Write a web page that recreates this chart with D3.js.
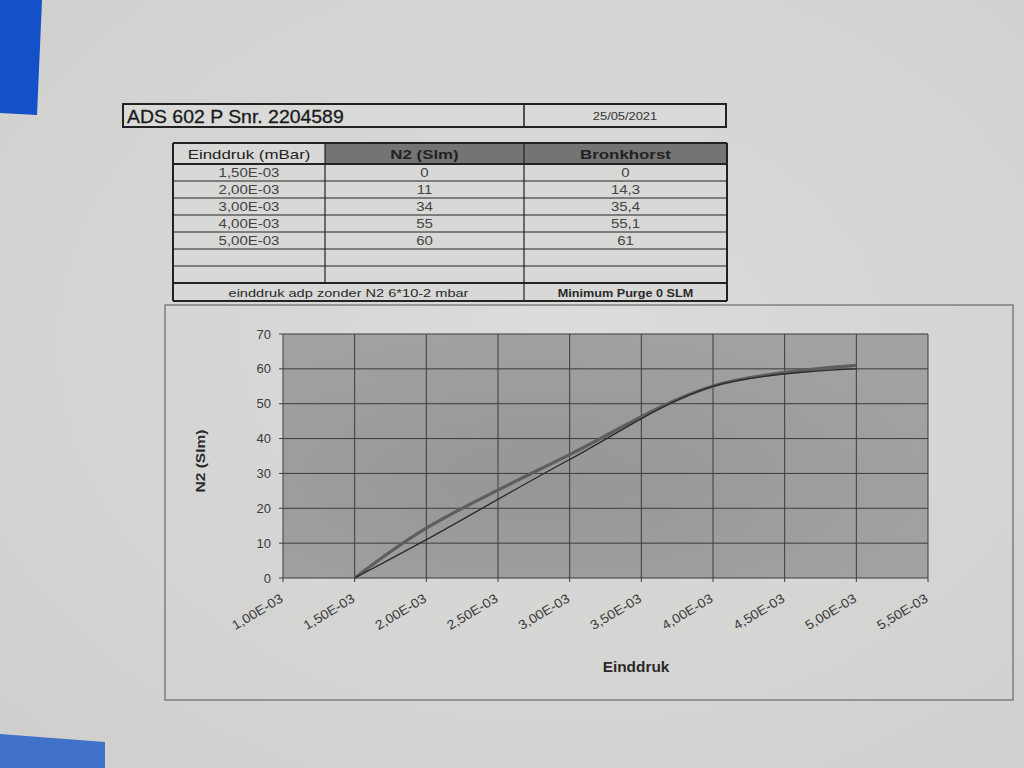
<!DOCTYPE html>
<html><head><meta charset="utf-8">
<script src="https://cdn.jsdelivr.net/npm/d3@7"></script>
<style>html,body{margin:0;padding:0;background:#d5d5d3;}svg{display:block;font-family:"Liberation Sans",Arial,sans-serif;}</style>
</head><body>
<svg id="c" width="1024" height="768"></svg>
<script>
// ---- data ----
const title = "ADS 602 P Snr. 2204589";
const dateText = "25/05/2021";
const columns = ["Einddruk (mBar)", "N2 (Slm)", "Bronkhorst"];
const pressure = [1.5e-3, 2.0e-3, 3.0e-3, 4.0e-3, 5.0e-3];
const n2 = [0, 11, 34, 55, 60];
const bronkhorst = [0, 14.3, 35.4, 55.1, 61];
const footLeft = "einddruk adp zonder N2 6*10-2 mbar";
const footRight = "Minimum Purge 0 SLM";
const xTicks = [1.0e-3, 1.5e-3, 2.0e-3, 2.5e-3, 3.0e-3, 3.5e-3, 4.0e-3, 4.5e-3, 5.0e-3, 5.5e-3];
const yTicks = [0, 10, 20, 30, 40, 50, 60, 70];
const xTitle = "Einddruk";
const yTitle = "N2 (Slm)";

const fmt = v => v.toExponential(2).replace(".", ",").replace(/e([+-])(\d)$/, "E$10$2").replace(/e([+-])(\d\d)$/, "E$1$2");
const fmtNum = v => String(v).replace(".", ",");

const svg = d3.select("#c");

// paper background
const defs = svg.append("defs");
const g1 = defs.append("radialGradient").attr("id","paper").attr("cx","55%").attr("cy","45%").attr("r","75%");
g1.append("stop").attr("offset","0%").attr("stop-color","#dcdcda");
g1.append("stop").attr("offset","100%").attr("stop-color","#cfcfcd");
svg.append("rect").attr("width",1024).attr("height",768).attr("fill","url(#paper)");
// blue patches
svg.append("path").attr("d","M0,0 L42,0 L37,115 L0,113 Z").attr("fill","#1450c8");
svg.append("path").attr("d","M0,734 L105,742 L105,768 L0,768 Z").attr("fill","#3f72c8");

function stxt(g, cx, y, str, size, sx, opts){
  opts = opts || {};
  return g.append("text").attr("transform",`translate(${cx},${y}) scale(${sx},1)`)
    .attr("text-anchor", opts.anchor || "middle").attr("font-size",size)
    .attr("font-weight",opts.weight||"normal").attr("fill",opts.fill||"#333").text(str);
}

// ---- title box ----
const tb = svg.append("g");
tb.append("rect").attr("x",123).attr("y",104).attr("width",603).attr("height",23).attr("fill","#dadad8").attr("stroke","#222").attr("stroke-width",2);
tb.append("line").attr("x1",524).attr("x2",524).attr("y1",104).attr("y2",127).attr("stroke","#222").attr("stroke-width",1.5);
stxt(tb, 127, 123, title, 18, 1.08, {anchor:"start", fill:"#1a1a1a"}).attr("stroke","#1a1a1a").attr("stroke-width",0.3);
stxt(tb, 625, 120, dateText, 11.5, 1.12, {fill:"#333"});

// ---- data table ----
const colX = [173, 325, 524, 727];
const rowY = [143, 164, 181, 198, 215, 232, 249, 266, 283, 301];
const tg = svg.append("g");
tg.append("rect").attr("x",colX[0]).attr("y",rowY[0]).attr("width",colX[3]-colX[0]).attr("height",rowY[9]-rowY[0]).attr("fill","#d8d8d6");
tg.append("rect").attr("x",colX[1]).attr("y",rowY[0]).attr("width",colX[3]-colX[1]).attr("height",rowY[1]-rowY[0]).attr("fill","#747474");
rowY.forEach((y,i)=>{
  tg.append("line").attr("x1",colX[0]).attr("x2",colX[3]).attr("y1",y).attr("y2",y).attr("stroke","#222").attr("stroke-width",(i===0||i===1||i===8||i===9)?2:1.2);
});
colX.forEach((x,i)=>{
  tg.append("line").attr("x1",x).attr("x2",x).attr("y1",rowY[0]).attr("y2",(i===1)?rowY[8]:rowY[9]).attr("stroke","#222").attr("stroke-width",(i===0||i===3)?2:1.2);
});
columns.forEach((c,i)=>{
  stxt(tg, (colX[i]+colX[i+1])/2, rowY[1]-5, c, 13.5, 1.25, {weight: i===0?"normal":"bold", fill:"#222"});
});
pressure.forEach((p,i)=>{
  const y = rowY[i+1]+13;
  const vals = [fmt(p), fmtNum(n2[i]), fmtNum(bronkhorst[i])];
  vals.forEach((v,j)=>{
    stxt(tg, (colX[j]+colX[j+1])/2, y, v, 12, 1.25, {fill:"#444"});
  });
});
stxt(tg, (colX[0]+colX[2])/2, rowY[8]+14, footLeft, 11.5, 1.27, {fill:"#2a2a2a"});
stxt(tg, (colX[2]+colX[3])/2, rowY[8]+14, footRight, 11, 1.15, {weight:"bold", fill:"#2a2a2a"});

// ---- chart ----
svg.append("rect").attr("x",165).attr("y",305).attr("width",848).attr("height",395).attr("fill","none").attr("stroke","#6a6a6a").attr("stroke-width",1.2);

const L=283, R=928, T=334, B=578;
const x = d3.scaleLinear().domain([1.0e-3, 5.5e-3]).range([L,R]);
const y = d3.scaleLinear().domain([0,70]).range([B,T]);

const g2 = defs.append("radialGradient").attr("id","plotbg").attr("cx","40%").attr("cy","60%").attr("r","70%");
g2.append("stop").attr("offset","0%").attr("stop-color","#969696");
g2.append("stop").attr("offset","100%").attr("stop-color","#a2a2a2");
svg.append("rect").attr("x",L).attr("y",T).attr("width",R-L).attr("height",B-T).attr("fill","url(#plotbg)");

const grid = svg.append("g");
grid.selectAll("line.v").data(xTicks).join("line").attr("class","v")
  .attr("x1",d=>x(d)).attr("x2",d=>x(d)).attr("y1",T).attr("y2",B+4).attr("stroke","#3c3c3c").attr("stroke-width",1);
grid.selectAll("line.h").data(yTicks).join("line").attr("class","h")
  .attr("x1",L-4).attr("x2",R).attr("y1",d=>y(d)).attr("y2",d=>y(d)).attr("stroke","#3c3c3c").attr("stroke-width",1);

svg.selectAll("text.yt").data(yTicks).join("text").attr("class","yt")
  .attr("x",L-12).attr("y",d=>y(d)+4.5).attr("text-anchor","end").attr("font-size",13).attr("fill","#3a3a3a").text(d=>d);
svg.selectAll("text.xt").data(xTicks).join("text").attr("class","xt")
  .attr("transform",d=>`translate(${x(d)+1},${B+23}) rotate(-31) scale(1.08,1)`)
  .attr("text-anchor","end").attr("font-size",13).attr("fill","#3a3a3a").text(d=>fmt(d));

svg.append("text").attr("transform",`translate(205,${(T+B)/2+5}) rotate(-90) scale(1.15,1)`).attr("text-anchor","middle")
  .attr("font-size",13.5).attr("font-weight","bold").attr("fill","#2a2a2a").text(yTitle);
svg.append("text").attr("transform","translate(636,672) scale(1.1,1)").attr("text-anchor","middle").attr("font-size",14).attr("font-weight","bold").attr("fill","#2a2a2a").text(xTitle);

const line = d3.line().x(d=>x(d[0])).y(d=>y(d[1])).curve(d3.curveCatmullRom.alpha(0.5));
svg.append("path").datum(pressure.map((p,i)=>[p,bronkhorst[i]])).attr("d",line)
  .attr("fill","none").attr("stroke","#5e5e5e").attr("stroke-width",3.2);
svg.append("path").datum(pressure.map((p,i)=>[p,n2[i]])).attr("d",line)
  .attr("fill","none").attr("stroke","#2a2a2a").attr("stroke-width",1.3);
</script>
</body></html>
